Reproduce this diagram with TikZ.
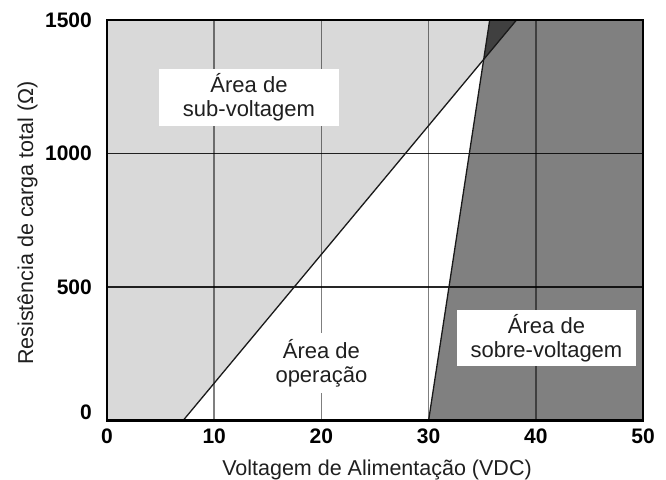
\documentclass[tikz,border=0pt]{standalone}
\usepackage{fontspec}
\setmainfont{Liberation Sans}
\begin{document}
\begin{tikzpicture}[x=1pt,y=-1pt,
  lightfill/.style={fill=lgray},
  tick/.style={font=\fontsize{21}{24}\bfseries\selectfont, text=black, inner sep=0pt},
  axtitle/.style={font=\fontsize{21.5}{24}\selectfont, text=black!88, inner sep=0pt},
  areabox/.style={fill=white, font=\fontsize{22}{24}\selectfont, text=black!88, align=center, inner sep=0pt, minimum width=180, minimum height=57},
  vgrid/.style={draw=black, line width=1.5pt, opacity=0.5},
  hgrid/.style={draw=black, line width=1.5pt, opacity=0.85},
  limit/.style={draw=black!90, line width=1.3pt},
  frame/.style={draw=black, line width=2.4pt}]
\definecolor{lgray}{HTML}{D9D9D9}
\definecolor{mgray}{HTML}{808080}
\definecolor{dgray}{HTML}{404040}
\useasboundingbox (0,0) rectangle (666,479);
% corners
\coordinate (BL) at (107,420.5);
\coordinate (BR) at (643,420.5);
\coordinate (TL) at (107,20);
\coordinate (TR) at (643,20);
% limit lines
\coordinate (S0) at (183.1,420.5);
\coordinate (S1) at (516.5,20);
\coordinate (O0) at (428.6,420.5);
\coordinate (O1) at (489.7,20);
\coordinate (I) at (483.7,59.4);
% regions
\fill[white] (BL) rectangle (TR);
\fill[lgray] (BL) -- (S0) -- (I) -- (O1) -- (TL) -- cycle;
\fill[mgray] (O0) -- (I) -- (S1) -- (TR) -- (BR) -- cycle;
\fill[dgray] (I) -- (O1) -- (S1) -- cycle;
% grid
\foreach \x in {214.2,321.4,428.6,535.8} {\draw[vgrid] (\x,20) -- (\x,420.5);}
\foreach \y in {153.5,287} {\draw[hgrid] (107,\y) -- (643,\y);}
% limit lines
\draw[limit] (S0) -- (S1);
\draw[limit] (O0) -- (O1);
% frame
\draw[frame] (BL) rectangle (TR);
% area labels
\node[areabox] (sub) at (249,97.5) {Área de\\sub-voltagem};
\node[areabox, minimum width=0, inner xsep=4pt, minimum height=60] (op) at (321.4,363) {Área de\\operação};
\node[areabox, minimum width=179, minimum height=56] (sobre) at (546.5,338) {Área de\\sobre-voltagem};
% tick labels
\node[tick, anchor=east] (y1500) at (92,20.5) {1500};
\node[tick, anchor=east] (y1000) at (92,153.5) {1000};
\node[tick, anchor=east] (y500) at (92,287) {500};
\node[tick, anchor=east] (y0) at (92,412) {0};
\node[tick, anchor=base] (x0) at (107,443) {0};
\node[tick, anchor=base] (x10) at (214.2,443) {10};
\node[tick, anchor=base] (x20) at (321.4,443) {20};
\node[tick, anchor=base] (x30) at (428.6,443) {30};
\node[tick, anchor=base] (x40) at (535.8,443) {40};
\node[tick, anchor=base] (x50) at (643,443) {50};
% axis titles
\node[axtitle, anchor=base] (xt) at (377,475) {Voltagem de Alimentação (VDC)};
\node[axtitle, anchor=base, rotate=90] (yt) at (33,223) {Resistência de carga total (Ω)};
\end{tikzpicture}
\end{document}
